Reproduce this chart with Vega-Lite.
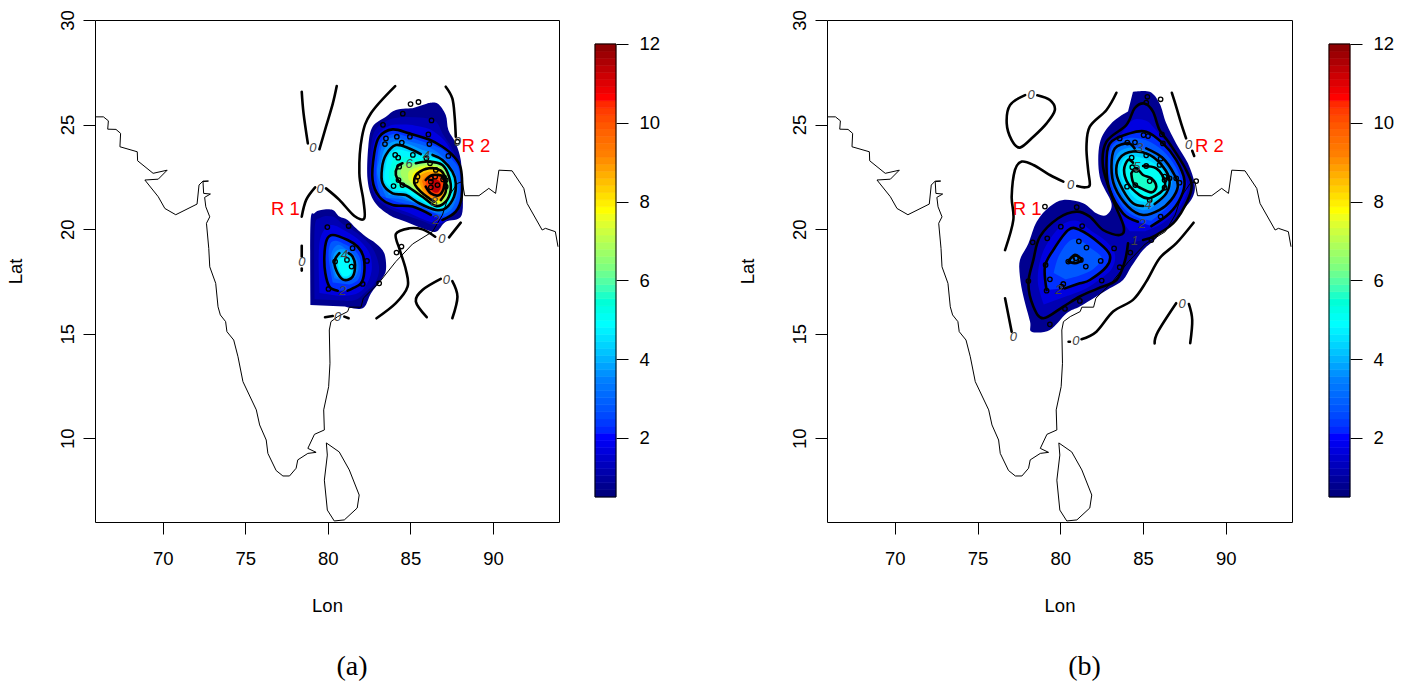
{"$schema":"https://vega.github.io/schema/vega-lite/v6.json","padding":{"left":5,"top":9,"right":0,"bottom":0},"background":"white","spacing":77,"config":{"view":{"stroke":"black","strokeWidth":1},"axis":{"grid":false,"domain":false,"tickColor":"black","tickSize":12,"labelColor":"black","titleColor":"black","labelFont":"Liberation Sans","titleFont":"Liberation Sans","labelFontSize":18.5,"titleFontSize":18.5,"titleFontWeight":"normal"},"axisX":{"labelPadding":15,"titlePadding":29},"axisY":{"labelAngle":-90,"labelAlign":"center","labelBaseline":"bottom","labelPadding":6,"titlePadding":33},"title":{"font":"Liberation Serif","fontSize":28,"fontWeight":"normal","color":"black"}},
"datasets":{
"bar":[{"lo":[0.5,0.68,0.86,1.04,1.22,1.4,1.58,1.76,1.94,2.12,2.3,2.48,2.66,2.84,3.02,3.2,3.38,3.56,3.73,3.91,4.09,4.27,4.45,4.63,4.81,4.99,5.17,5.35,5.53,5.71,5.89,6.07,6.25,6.43,6.61,6.79,6.97,7.15,7.33,7.51,7.69,7.87,8.05,8.23,8.41,8.59,8.77,8.95,9.13,9.31,9.48,9.66,9.84,10.02,10.2,10.38,10.56,10.74,10.92,11.1,11.28,11.46,11.64,11.82],"hi":[0.68,0.86,1.04,1.22,1.4,1.58,1.76,1.94,2.12,2.3,2.48,2.66,2.84,3.02,3.2,3.38,3.56,3.73,3.91,4.09,4.27,4.45,4.63,4.81,4.99,5.17,5.35,5.53,5.71,5.89,6.07,6.25,6.43,6.61,6.79,6.97,7.15,7.33,7.51,7.69,7.87,8.05,8.23,8.41,8.59,8.77,8.95,9.13,9.31,9.48,9.66,9.84,10.02,10.2,10.38,10.56,10.74,10.92,11.1,11.28,11.46,11.64,11.82,12]}],
"coast":[
{"g":"ind","x":[65.9,66.41,66.71,66.67,67.17,67.45,67.41,68.46,68.48,69.42,70.27,69.73,68.92,69.73,70.13,70.79,72.08,72.2,72.44,72.77,72.44,72.48,72.89,72.54,72.61,72.85,72.65,72.79,72.85,73.21,73.35,73.49,73.81,73.89,74.3,74.56,74.86,75.67,75.87,76.27,76.37,76.87,77.28,77.68,78.08,78.18,78.79,79.29,78.79,79.19,79.79,79.75,80.05,80.13,80.09,80.19,80.6,81.2,81.3,82.01,82.15,83.11,84.12,85.13,86.34,86.94,87.3,87.85,88.14,88.29,89.15,89.75,90.16,90.36,91.16,91.87,92.07,92.98,93.18,93.78,93.94],"y":[25.37,25.37,25.18,24.78,24.77,24.58,23.94,23.7,23.27,22.67,22.82,22.39,22.35,21.55,20.99,20.69,21.2,22.11,22.3,22.3,22.27,21.71,21.68,21.52,21.07,20.59,20.28,19.08,18.2,17.41,16.29,15.9,15.58,15.1,14.7,13.9,12.71,11.36,10.64,9.92,9.28,8.46,8.2,8.2,8.57,8.97,9.28,9.33,9.52,10.19,10.4,11.36,12.47,13.59,15.18,15.58,15.82,16.06,16.27,16.27,16.7,17.45,18.45,19.29,19.88,20.68,21.55,22.19,22.27,21.6,21.6,21.95,21.71,22.82,22.79,21.95,21.23,19.96,20.04,19.88,19.16]},
{"g":"lka","x":[79.91,80.69,81.3,81.9,81.78,81.0,80.39,79.97,79.79,79.97,79.91],"y":[9.78,9.35,8.49,7.29,6.67,6.1,6.05,6.57,8.0,9.2,9.78]}],
"polysA":[
{"g":"o1","z":0.7,"x":[78.95,78.95,79.19,79.59,80.3,80.7,81.2,81.71,82.31,82.91,83.42,83.52,83.22,82.61,82.11,81.0],"y":[16.38,20.28,20.76,20.92,20.92,20.6,20.44,20.04,19.64,19.32,18.85,18.05,17.57,16.93,16.22,16.3]},
{"g":"p10","z":1.1,"x":[79.2,79.2,79.55,80.3,80.9,81.8,82.7,83.1,82.9,82.3,81.6,80.5],"y":[16.65,20.0,20.55,20.6,20.25,19.8,19.1,18.2,17.5,17.0,16.6,16.6]},
{"g":"p15","z":1.6,"x":[79.5,79.45,79.6,80.2,81.1,82.0,82.55,82.65,82.3,81.7,80.7],"y":[16.95,18.7,19.7,20.2,19.9,19.4,18.8,18.0,17.3,16.9,16.8]},
{"g":"c2a","z":2.2,"c":1,"x":[81.2,81.5,82.01,82.21,82.15,81.81,81.2,80.3,79.93,79.79,79.85,80.1,80.6],"y":[17.06,17.17,17.41,17.97,18.69,19.16,19.48,19.72,19.48,18.69,17.89,17.25,17.06]},
{"g":"p25","z":2.7,"x":[80.3,80.05,80.15,80.5,81.1,81.6,81.95,82.0,81.8,81.3],"y":[17.45,18.65,19.3,19.45,19.25,19.0,18.6,18.0,17.55,17.35]},
{"g":"p30","z":3.2,"x":[80.4,80.2,80.3,80.65,81.1,81.5,81.8,81.85,81.6,81.05],"y":[17.65,18.5,19.0,19.25,19.05,18.85,18.5,18.05,17.65,17.5]},
{"g":"p35","z":3.7,"x":[80.5,80.3,80.5,81.1,81.6,81.75,81.55,81.05],"y":[17.75,18.45,18.95,19.0,18.6,18.15,17.7,17.52]},
{"g":"c4a","z":4.3,"c":1,"x":[80.7,80.4,80.6,81.0,81.5,81.65,81.5,81.26],"y":[18.85,18.45,17.89,17.57,17.73,18.29,18.69,18.85]},
{"g":"p45","z":4.8,"x":[80.7,80.6,81.0,81.35,81.45,81.2,80.9],"y":[18.0,18.5,18.65,18.45,18.0,17.75,17.75]},
{"g":"o2","z":0.7,"x":[86.03,86.64,87.14,87.3,87.75,88.05,88.11,88.11,87.14,86.54,85.73,84.73,83.72,82.81,82.41,82.45,82.71,83.52,84.12,85.13],"y":[26.01,26.01,25.46,24.74,24.1,23.31,22.35,20.68,20.36,19.88,20.04,20.36,20.68,21.32,22.35,23.94,24.9,25.38,25.7,25.78]},
{"g":"q10","z":1.1,"x":[82.95,82.55,82.6,82.85,83.6,84.4,85.1,86.0,86.6,87.0,87.5,87.85,87.95,87.95,87.3,86.6,85.7,84.6,83.8],"y":[21.4,22.35,23.8,24.7,25.2,25.35,25.35,25.3,25.1,24.5,23.9,23.2,22.3,21.0,20.55,20.15,20.4,20.7,20.95]},
{"g":"q15","z":1.6,"x":[83.05,82.6,82.7,83.0,83.75,84.6,85.3,86.1,86.7,87.2,87.7,88.0,88.05,88.05,87.6,86.9,86.0,85.0,83.9],"y":[21.45,22.35,23.7,24.5,24.95,25.0,24.95,24.8,24.5,24.1,23.4,23.0,22.3,21.3,20.7,20.3,20.4,20.75,21.05]},
{"g":"c2b","z":2.2,"c":1,"x":[86.24,85.13,83.92,83.12,82.71,82.81,83.12,83.92,84.93,86.13,86.94,87.54,88.05,88.11,87.75,86.94],"y":[20.68,21.08,21.16,21.55,22.35,23.63,24.42,24.77,24.58,24.29,23.94,23.55,22.91,21.55,20.84,20.44]},
{"g":"q25","z":2.7,"x":[83.2,82.95,83.0,83.25,83.95,84.9,86.1,86.95,87.5,87.95,88.0,87.7,87.05,86.35,85.3,84.2],"y":[21.6,22.4,23.4,24.2,24.55,24.4,24.1,23.8,23.35,22.8,21.6,20.95,20.6,20.8,21.1,21.3]},
{"g":"q30","z":3.2,"x":[83.55,83.0,83.1,83.35,84.0,84.9,85.8,86.6,87.25,87.75,87.9,87.6,87.1,86.45,85.4,84.3],"y":[21.5,22.6,23.3,24.1,24.4,24.2,24.0,23.7,23.2,22.6,21.9,21.1,20.75,20.8,21.2,21.45]},
{"g":"q35","z":3.7,"x":[83.7,83.2,83.2,83.45,84.05,84.95,85.7,86.5,87.1,87.6,87.8,87.6,87.1,86.5,85.45,84.5],"y":[21.65,22.5,23.1,23.85,24.2,24.05,23.8,23.6,23.2,22.7,22.1,21.3,20.9,20.85,21.2,21.55]},
{"g":"c4b","z":4.3,"c":1,"x":[85.63,84.93,84.12,83.52,83.28,83.32,83.92,84.73,85.53,86.54,87.14,87.64,87.75,87.54,86.94,86.34],"y":[23.59,23.86,24.02,23.55,22.91,22.19,21.71,21.63,21.24,20.92,21.0,21.55,22.19,22.75,23.31,23.55]},
{"g":"q45","z":4.7,"x":[84.0,83.45,83.5,83.7,84.2,84.9,85.7,86.4,87.0,87.45,87.6,87.45,87.1,86.5,85.6,84.7],"y":[21.85,22.3,23.0,23.55,23.8,23.7,23.5,23.4,23.15,22.6,21.95,21.45,21.1,21.0,21.4,21.8]},
{"g":"q50","z":5.2,"x":[84.05,83.7,83.8,84.1,84.9,85.7,86.5,87.05,87.4,87.5,87.3,86.55,85.6,84.8],"y":[21.95,22.5,23.0,23.4,23.45,23.35,23.2,22.85,22.4,21.85,21.35,21.05,21.5,21.95]},
{"g":"q55","z":5.7,"x":[84.3,84.0,84.1,84.5,85.3,86.2,86.95,87.35,87.45,87.15,86.55,85.7,84.85],"y":[22.1,22.6,23.0,23.2,23.2,23.25,23.1,22.5,21.85,21.3,21.1,21.55,22.0]},
{"g":"c6","z":6.2,"c":1,"x":[85.33,86.13,86.94,87.34,87.44,87.14,86.54,85.73,84.83,84.42,84.12,84.22,84.52],"y":[23.15,23.23,23.07,22.51,21.87,21.32,21.11,21.55,22.03,22.19,22.59,22.99,23.15]},
{"g":"q65","z":6.7,"x":[84.6,84.4,84.6,85.3,86.1,86.9,87.25,87.3,87.1,86.5,85.7,85.0],"y":[22.3,22.7,23.0,23.05,23.15,22.95,22.45,21.85,21.35,21.15,21.6,22.05]},
{"g":"q70","z":7.2,"x":[84.9,84.9,85.4,86.1,86.85,87.2,87.22,87.0,86.5,85.7,85.2],"y":[22.35,22.75,22.95,23.05,22.9,22.4,21.85,21.4,21.2,21.65,22.05]},
{"g":"q75","z":7.7,"x":[85.1,85.2,85.8,86.5,87.1,87.2,86.95,86.45,85.75,85.25],"y":[22.35,22.7,22.95,22.95,22.5,21.85,21.4,21.25,21.7,22.05]},
{"g":"c8","z":8.3,"c":1,"x":[86.44,86.13,85.63,85.29,85.23,85.43,86.13,86.84,87.14,87.14,86.84],"y":[21.32,21.48,21.79,22.11,22.35,22.67,22.91,22.8,22.35,21.79,21.39]},
{"g":"q85","z":8.8,"x":[85.5,85.65,86.2,86.8,87.08,87.05,86.8,86.35,85.8],"y":[22.3,22.6,22.75,22.65,22.3,21.8,21.45,21.45,21.75]},
{"g":"q90","z":9.4,"x":[85.7,85.9,86.3,86.85,87.05,86.95,86.7,86.2,85.85],"y":[22.3,22.5,22.65,22.55,22.2,21.75,21.55,21.6,21.95]},
{"g":"c10","z":10.2,"c":1,"x":[85.93,86.34,86.98,87.04,86.74,86.24,85.93],"y":[22.35,22.59,22.51,22.03,21.63,21.71,22.03]},
{"g":"q110","z":11.2,"x":[86.2,86.4,86.75,86.85,86.65,86.35,86.2],"y":[22.25,22.4,22.3,22.0,21.75,21.8,22.0]},
{"g":"z1","c":1,"x":[78.42,78.53,78.79],"y":[26.57,25.54,24.1]},
{"g":"z2","c":1,"x":[80.54,80.3,79.89,79.49],"y":[26.84,26.0,24.9,23.82]},
{"g":"z3","c":1,"x":[78.42,78.69,79.23],"y":[20.6,21.4,22.0]},
{"g":"z4","c":1,"x":[79.89,80.7,81.61,82.21,82.15,81.91,82.07,82.61,84.08],"y":[21.95,21.4,20.63,20.52,21.4,22.67,24.42,25.54,26.84]},
{"g":"z5","c":1,"x":[87.14,87.54,87.68,87.75],"y":[26.81,26.25,25.38,24.42]},
{"g":"z6","c":1,"x":[88.05,87.34],"y":[20.31,19.61]},
{"g":"z7","c":1,"x":[86.5,85.73,84.93,84.12,84.36,84.73,84.83,84.12,82.95],"y":[19.64,19.99,20.04,19.77,19.0,18.05,17.25,16.46,15.74]},
{"g":"z8","c":1,"x":[85.99,85.33,85.73,86.84],"y":[15.79,16.54,17.09,17.62]},
{"g":"z9","c":1,"x":[87.54,87.85,87.54],"y":[17.52,16.77,15.74]},
{"g":"z10","c":1,"x":[78.42,78.42],"y":[19.21,18.69]},
{"g":"z11","c":1,"x":[78.42,78.42],"y":[18.12,18.02]},
{"g":"z12","c":1,"x":[79.83,80.3],"y":[15.79,15.85]},
{"g":"z13","c":1,"x":[81.0,81.26],"y":[15.82,15.74]}],
"polysB":[
{"g":"o","z":0.7,"x":[84.39,85.4,86.0,86.4,87.0,87.71,88.11,88.01,87.4,86.4,85.8,85.0,84.29,83.79,82.99,82.18,81.18,80.38,79.37,78.27,78.17,77.77,77.56,77.56,78.07,78.57,79.37,80.18,81.38,82.18,82.79,83.09,82.38,82.38,83.09,84.09],"y":[26.57,26.57,26.01,25.06,24.1,23.15,22.19,21.55,20.92,20.28,19.56,19.0,18.21,17.57,17.17,16.78,16.3,15.98,15.18,15.1,15.58,16.78,17.73,18.53,19.32,20.36,21.08,21.4,21.24,20.76,20.68,21.24,22.51,24.1,25.06,25.62]},
{"g":"c1","z":1.1,"c":1,"x":[85.0,85.8,87.0,87.91,87.6,86.6,86.0,85.6,85.09,84.49,83.99,82.79,82.58,83.19,83.83,83.59,82.58,81.78,80.98,79.87,78.77,78.37,78.07,78.37,78.97,80.18,81.18,82.28,83.39,83.89,84.09],"y":[19.48,19.72,20.44,21.87,22.83,24.1,24.74,25.62,26.01,25.78,24.98,24.18,22.99,21.4,20.12,19.72,19.96,20.6,20.84,20.52,19.64,18.53,17.41,16.3,15.74,16.3,16.78,17.17,17.57,18.45,19.32]},
{"g":"n15","z":1.6,"x":[85.1,86.2,87.15,87.7,87.3,86.4,85.6,85.15,84.35,83.6,82.9,82.7,83.05,83.7,84.2],"y":[19.9,20.3,21.0,21.95,22.8,24.1,24.9,25.2,25.2,24.5,24.1,23.0,21.7,20.5,19.9]},
{"g":"s15","z":1.6,"x":[79.0,78.65,78.75,79.2,80.1,81.0,81.9,82.8,83.3,83.1,82.2,81.4,80.4],"y":[16.4,17.4,18.4,19.3,20.2,20.4,19.9,19.4,18.8,18.1,17.5,17.1,16.8]},
{"g":"c2n","z":2.2,"c":1,"x":[85.5,86.6,87.3,87.5,87.0,86.2,85.19,84.19,82.99,82.79,82.99,83.79,84.69],"y":[20.15,20.76,21.55,22.35,23.31,24.1,24.66,24.58,24.1,22.99,21.87,20.76,20.36]},
{"g":"c2s","z":2.2,"c":1,"x":[80.28,81.18,81.78,82.79,82.99,82.38,81.18,80.48,79.57,79.07,79.17],"y":[17.17,17.41,17.57,18.21,18.77,19.32,19.96,19.96,19.0,18.21,17.09]},
{"g":"s25","z":2.7,"x":[79.6,79.9,80.5,81.1,82.0,82.5,82.0,81.2,80.3],"y":[17.9,18.7,19.4,19.5,19.0,18.6,18.1,17.8,17.6]},
{"g":"c3s","z":3.1,"c":1,"x":[80.48,80.88,81.28,80.88,80.48],"y":[18.45,18.77,18.53,18.37,18.45]},
{"g":"n25","z":2.7,"x":[85.5,86.4,87.0,87.3,86.95,86.2,85.2,84.1,83.15,82.95,83.15,83.95,84.85],"y":[20.4,21.0,21.7,22.2,23.0,23.75,24.25,24.35,24.0,23.0,21.95,20.9,20.5]},
{"g":"c3n","z":3.2,"c":1,"x":[85.19,86.2,86.9,87.1,86.7,86.0,85.0,84.09,83.29,83.09,83.29,84.09,84.49],"y":[23.86,23.39,22.59,22.03,21.4,20.92,20.68,21.08,22.03,22.99,23.86,24.1,23.86]},
{"g":"n35","z":3.7,"x":[85.4,86.3,86.75,86.55,85.8,84.9,84.2,83.45,83.25,83.55,84.25,85.0],"y":[20.95,21.55,22.2,22.8,23.45,23.8,23.9,23.6,22.85,21.95,21.15,20.9]},
{"g":"c4","z":4.2,"c":1,"x":[85.7,86.4,86.6,86.2,85.4,84.39,83.59,83.39,83.79,84.39,85.0],"y":[21.2,21.71,22.35,22.99,23.55,23.71,23.39,22.67,21.87,21.24,21.11]},
{"g":"n45","z":4.6,"x":[85.6,86.3,86.45,86.0,85.3,84.4,83.85,83.6,83.95,84.55,85.1],"y":[21.35,21.8,22.35,22.95,23.3,23.5,23.35,22.75,22.05,21.45,21.3]},
{"g":"c5","z":5.0,"c":1,"x":[85.0,85.8,86.3,86.2,85.4,84.79,84.09,83.85,84.09,84.39],"y":[23.02,22.91,22.35,21.87,21.48,21.63,22.19,22.83,23.31,23.18]},
{"g":"c6b","z":5.5,"c":1,"x":[84.29,84.59,85.0,85.5,85.8,85.5,84.89,84.43,84.29],"y":[22.67,22.91,22.59,22.43,22.03,21.76,21.95,22.19,22.67]},
{"g":"z1","c":1,"x":[78.61,79.37,79.67,79.17,78.37,77.56,77.06,76.76,76.96,77.87],"y":[26.4,26.17,25.7,25.06,24.42,23.9,24.26,25.06,25.93,26.41]},
{"g":"z2","c":1,"x":[83.39,82.79,81.78,81.58,81.68,81.78,81.48,81.02],"y":[26.52,25.7,24.9,23.94,22.83,22.11,22.0,22.06]},
{"g":"z3","c":1,"x":[80.18,79.37,78.37,77.67,77.26,77.06,77.16,76.66],"y":[22.27,22.59,23.07,23.23,22.83,21.55,20.44,19.0]},
{"g":"z4","c":1,"x":[86.74,87.0,87.3,87.6],"y":[26.52,25.86,25.06,24.34]},
{"g":"z5","c":1,"x":[87.97,88.09],"y":[23.75,23.5]},
{"g":"z6","c":1,"x":[81.28,82.18,83.19,84.39,85.19,86.0,87.0,88.05],"y":[14.74,15.1,16.06,16.62,17.49,18.61,19.32,20.31]},
{"g":"z7","c":1,"x":[85.7,85.9,87.0],"y":[14.54,15.1,16.46]},
{"g":"z8","c":1,"x":[87.77,87.97,87.85],"y":[16.42,15.66,14.55]},
{"g":"z9","c":1,"x":[76.66,77.06],"y":[16.7,15.1]},
{"g":"z10","c":1,"x":[80.5,80.58],"y":[14.62,14.62]}],
"ptsA":[{"x":79.97,"y":20.1},{"x":81.26,"y":20.15},{"x":81.5,"y":19.09},{"x":82.37,"y":18.48},{"x":81.16,"y":18.53},{"x":81.44,"y":18.21},{"x":80.44,"y":18.45},{"x":82.11,"y":17.38},{"x":80.04,"y":17.14},{"x":83.11,"y":17.41},{"x":84.16,"y":18.88},{"x":84.46,"y":19.17},{"x":85.01,"y":25.98},{"x":85.49,"y":26.08},{"x":84.54,"y":25.52},{"x":86.28,"y":25.2},{"x":83.34,"y":24.99},{"x":86.09,"y":24.53},{"x":83.52,"y":24.34},{"x":83.46,"y":24.07},{"x":84.18,"y":24.42},{"x":84.97,"y":24.42},{"x":84.48,"y":24.14},{"x":86.15,"y":24.07},{"x":85.15,"y":23.55},{"x":84.08,"y":23.55},{"x":84.26,"y":23.42},{"x":85.97,"y":23.39},{"x":86.19,"y":23.15},{"x":87.3,"y":23.5},{"x":87.85,"y":24.18},{"x":84.32,"y":22.99},{"x":84.28,"y":22.35},{"x":84.52,"y":22.11},{"x":83.98,"y":22.06},{"x":86.54,"y":22.83},{"x":85.43,"y":22.51},{"x":85.33,"y":22.32},{"x":86.24,"y":22.43},{"x":86.5,"y":22.51},{"x":86.24,"y":22.27},{"x":86.64,"y":22.11},{"x":86.24,"y":22.0},{"x":87.04,"y":22.48},{"x":87.14,"y":22.35},{"x":87.14,"y":22.03},{"x":86.98,"y":22.38}],
"ptsB":[{"x":86.06,"y":26.21},{"x":85.26,"y":26.33},{"x":85.19,"y":26.05},{"x":85.03,"y":24.5},{"x":85.3,"y":24.45},{"x":86.14,"y":24.53},{"x":86.2,"y":24.1},{"x":83.59,"y":24.34},{"x":84.05,"y":24.14},{"x":84.51,"y":24.15},{"x":85.19,"y":23.53},{"x":86.06,"y":23.37},{"x":84.31,"y":23.42},{"x":84.35,"y":22.96},{"x":85.19,"y":23.02},{"x":86.0,"y":23.07},{"x":84.59,"y":22.83},{"x":84.03,"y":22.03},{"x":84.53,"y":22.11},{"x":85.4,"y":22.3},{"x":86.3,"y":22.51},{"x":86.3,"y":22.35},{"x":86.6,"y":22.43},{"x":87.0,"y":22.43},{"x":86.3,"y":21.98},{"x":87.2,"y":22.22},{"x":85.4,"y":21.4},{"x":86.06,"y":20.6},{"x":88.21,"y":22.3},{"x":79.07,"y":21.08},{"x":80.99,"y":21.05},{"x":80.03,"y":20.12},{"x":81.32,"y":20.15},{"x":81.12,"y":19.42},{"x":81.58,"y":19.12},{"x":79.21,"y":19.56},{"x":78.33,"y":19.37},{"x":83.25,"y":19.08},{"x":84.23,"y":18.88},{"x":85.5,"y":19.48},{"x":80.48,"y":18.45},{"x":80.72,"y":18.53},{"x":80.94,"y":18.61},{"x":81.24,"y":18.53},{"x":81.54,"y":18.21},{"x":82.44,"y":18.48},{"x":83.59,"y":18.18},{"x":79.11,"y":18.29},{"x":79.37,"y":17.6},{"x":80.18,"y":17.38},{"x":80.07,"y":17.25},{"x":79.17,"y":17.06},{"x":78.07,"y":17.52},{"x":82.5,"y":17.54},{"x":81.18,"y":16.57},{"x":80.28,"y":16.19},{"x":79.37,"y":15.45}],
"labA":[{"x":80.9,"y":17.06,"t":"2"},{"x":81.0,"y":18.77,"t":"4"},{"x":86.54,"y":20.44,"t":"2"},{"x":85.97,"y":23.5,"t":"4"},{"x":84.93,"y":23.1,"t":"6"},{"x":86.44,"y":21.32,"t":"8"},{"x":79.09,"y":23.86,"t":"0"},{"x":79.53,"y":21.94,"t":"0"},{"x":87.85,"y":24.15,"t":"0"},{"x":86.9,"y":19.53,"t":"0"},{"x":87.18,"y":17.57,"t":"0"},{"x":78.42,"y":18.45,"t":"0"},{"x":80.6,"y":15.79,"t":"0"}],
"labB":[{"x":78.23,"y":26.41,"t":"0"},{"x":80.62,"y":22.11,"t":"0"},{"x":87.75,"y":24.02,"t":"0"},{"x":87.36,"y":16.43,"t":"0"},{"x":77.16,"y":14.83,"t":"0"},{"x":80.94,"y":14.63,"t":"0"},{"x":84.49,"y":19.44,"t":"1"},{"x":84.95,"y":20.25,"t":"2"},{"x":79.91,"y":17.09,"t":"2"},{"x":84.79,"y":23.86,"t":"3"},{"x":85.3,"y":21.16,"t":"4"},{"x":84.63,"y":22.96,"t":"5"}],
"regA":[{"x":77.43,"y":20.96,"t":"R 1"},{"x":88.97,"y":23.97,"t":"R 2"}],
"regB":[{"x":77.99,"y":20.96,"t":"R 1"},{"x":89.01,"y":23.97,"t":"R 2"}],
"box":[{"lo":0.5,"hi":12}]
},
"hconcat":[
{"spacing":34,"hconcat":[
{"width":464,"height":502,"title":{"text":"(a)","orient":"bottom","anchor":"middle","dx":25,"offset":38},
"encoding":{"x":{"field":"x","type":"quantitative","title":"Lon","scale":{"domain":[65.9,94],"nice":false,"zero":false},"axis":{"values":[70,75,80,85,90]}},"y":{"field":"y","type":"quantitative","title":"Lat","scale":{"domain":[6,30],"nice":false,"zero":false},"axis":{"values":[10,15,20,25,30]}}},
"layer":[
{"data":{"name":"polysA"},"transform":[{"flatten":["x","y"]},{"filter":"isValid(datum.z)"}],"mark":{"type":"line","filled":true,"interpolate":"cardinal","stroke":null,"strokeWidth":0},"encoding":{"detail":{"field":"g"},"order":{"value":null},"fill":{"field":"z","type":"quantitative","scale":{"domain":[0.5,1.9375,3.375,4.8125,6.25,7.6875,9.125,10.5625,12],"range":["#00007F","#0000FF","#007FFF","#00FFFF","#7FFF7F","#FFFF00","#FF7F00","#FF0000","#7F0000"]},"legend":null}}},
{"data":{"name":"polysA"},"transform":[{"flatten":["x","y"]},{"filter":"datum.c==1"}],"mark":{"type":"line","interpolate":"cardinal","color":"black","strokeWidth":2.6,"strokeCap":"round"},"encoding":{"detail":{"field":"g"},"order":{"value":null}}},
{"data":{"name":"coast"},"transform":[{"flatten":["x","y"]}],"mark":{"type":"line","color":"black","strokeWidth":1,"clip":true},"encoding":{"detail":{"field":"g"},"order":{"value":null}}},
{"data":{"name":"ptsA"},"mark":{"type":"point","shape":"circle","filled":false,"color":"black","size":20,"strokeWidth":1.3,"opacity":1}},
{"data":{"name":"labA"},"mark":{"type":"text","font":"Liberation Sans","fontStyle":"italic","fontSize":13,"color":"#444444"},"encoding":{"text":{"field":"t"}}},
{"data":{"name":"regA"},"mark":{"type":"text","font":"Liberation Sans","fontSize":18.5,"color":"#FF0000"},"encoding":{"text":{"field":"t"}}}
]},
{"width":21,"height":502,"view":{"stroke":null},
"encoding":{"y":{"field":"lo","type":"quantitative","title":null,"scale":{"domain":[-0.135,12.609],"nice":false,"zero":false},"axis":{"orient":"right","values":[2,4,6,8,10,12],"labelAngle":0,"labelAlign":"left","labelBaseline":"middle","labelPadding":11}},"y2":{"field":"hi"}},
"layer":[
{"data":{"name":"bar"},"transform":[{"flatten":["lo","hi"]}],"mark":{"type":"rect","strokeWidth":0.6},"encoding":{"fill":{"field":"lo","type":"quantitative","scale":{"domain":[0.5,1.9375,3.375,4.8125,6.25,7.6875,9.125,10.5625,12],"range":["#00007F","#0000FF","#007FFF","#00FFFF","#7FFF7F","#FFFF00","#FF7F00","#FF0000","#7F0000"]},"legend":null},"stroke":{"field":"lo","type":"quantitative","scale":{"domain":[0.5,1.9375,3.375,4.8125,6.25,7.6875,9.125,10.5625,12],"range":["#00007F","#0000FF","#007FFF","#00FFFF","#7FFF7F","#FFFF00","#FF7F00","#FF0000","#7F0000"]},"legend":null}}},
{"data":{"name":"box"},"mark":{"type":"rect","fill":null,"stroke":"black","strokeWidth":1}}
]}
]},
{"spacing":35,"hconcat":[
{"width":465,"height":502,"title":{"text":"(b)","orient":"bottom","anchor":"middle","dx":25,"offset":38},
"encoding":{"x":{"field":"x","type":"quantitative","title":"Lon","scale":{"domain":[65.9,94],"nice":false,"zero":false},"axis":{"values":[70,75,80,85,90]}},"y":{"field":"y","type":"quantitative","title":"Lat","scale":{"domain":[6,30],"nice":false,"zero":false},"axis":{"values":[10,15,20,25,30]}}},
"layer":[
{"data":{"name":"polysB"},"transform":[{"flatten":["x","y"]},{"filter":"isValid(datum.z)"}],"mark":{"type":"line","filled":true,"interpolate":"cardinal","stroke":null,"strokeWidth":0},"encoding":{"detail":{"field":"g"},"order":{"value":null},"fill":{"field":"z","type":"quantitative","scale":{"domain":[0.5,1.9375,3.375,4.8125,6.25,7.6875,9.125,10.5625,12],"range":["#00007F","#0000FF","#007FFF","#00FFFF","#7FFF7F","#FFFF00","#FF7F00","#FF0000","#7F0000"]},"legend":null}}},
{"data":{"name":"polysB"},"transform":[{"flatten":["x","y"]},{"filter":"datum.c==1"}],"mark":{"type":"line","interpolate":"cardinal","color":"black","strokeWidth":2.6,"strokeCap":"round"},"encoding":{"detail":{"field":"g"},"order":{"value":null}}},
{"data":{"name":"coast"},"transform":[{"flatten":["x","y"]}],"mark":{"type":"line","color":"black","strokeWidth":1,"clip":true},"encoding":{"detail":{"field":"g"},"order":{"value":null}}},
{"data":{"name":"ptsB"},"mark":{"type":"point","shape":"circle","filled":false,"color":"black","size":20,"strokeWidth":1.3,"opacity":1}},
{"data":{"name":"labB"},"mark":{"type":"text","font":"Liberation Sans","fontStyle":"italic","fontSize":13,"color":"#444444"},"encoding":{"text":{"field":"t"}}},
{"data":{"name":"regB"},"mark":{"type":"text","font":"Liberation Sans","fontSize":18.5,"color":"#FF0000"},"encoding":{"text":{"field":"t"}}}
]},
{"width":21,"height":502,"view":{"stroke":null},
"encoding":{"y":{"field":"lo","type":"quantitative","title":null,"scale":{"domain":[-0.135,12.609],"nice":false,"zero":false},"axis":{"orient":"right","values":[2,4,6,8,10,12],"labelAngle":0,"labelAlign":"left","labelBaseline":"middle","labelPadding":11}},"y2":{"field":"hi"}},
"layer":[
{"data":{"name":"bar"},"transform":[{"flatten":["lo","hi"]}],"mark":{"type":"rect","strokeWidth":0.6},"encoding":{"fill":{"field":"lo","type":"quantitative","scale":{"domain":[0.5,1.9375,3.375,4.8125,6.25,7.6875,9.125,10.5625,12],"range":["#00007F","#0000FF","#007FFF","#00FFFF","#7FFF7F","#FFFF00","#FF7F00","#FF0000","#7F0000"]},"legend":null},"stroke":{"field":"lo","type":"quantitative","scale":{"domain":[0.5,1.9375,3.375,4.8125,6.25,7.6875,9.125,10.5625,12],"range":["#00007F","#0000FF","#007FFF","#00FFFF","#7FFF7F","#FFFF00","#FF7F00","#FF0000","#7F0000"]},"legend":null}}},
{"data":{"name":"box"},"mark":{"type":"rect","fill":null,"stroke":"black","strokeWidth":1}}
]}
]}
]}
